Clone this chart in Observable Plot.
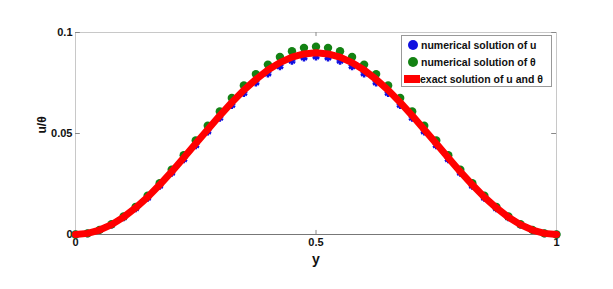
<!DOCTYPE html>
<html><head><meta charset="utf-8">
<script src="https://cdn.jsdelivr.net/npm/d3@7"></script>
<script src="https://cdn.jsdelivr.net/npm/@observablehq/plot@0.6"></script>
<style>
body{margin:0;background:#fff;}
#wrap{position:relative;width:613px;height:289px;font-family:"Liberation Sans",Arial,sans-serif;}
#legend{position:absolute;left:401px;top:35px;width:151px;height:52px;border:1px solid #999;background:#fff;box-sizing:border-box;font-weight:bold;font-size:10.5px;color:#111;}
.row{position:absolute;left:0;height:16px;line-height:16px;white-space:nowrap;}
.sw{position:absolute;top:50%;transform:translateY(-50%);}
</style></head>
<body><div id="wrap"></div>
<script>
const yPos = [0,0.025,0.05,0.075,0.1,0.125,0.15,0.175,0.2,0.225,0.25,0.275,0.3,0.325,0.35,0.375,0.4,0.425,0.45,0.475,0.5,0.525,0.55,0.575,0.6,0.625,0.65,0.675,0.7,0.725,0.75,0.775,0.8,0.825,0.85,0.875,0.9,0.925,0.95,0.975,1];
const halfU = [0,0.00054,0.00215,0.0048,0.0084,0.0129,0.0181,0.0240,0.0304,0.0371,0.0440,0.0509,0.0576,0.0640,0.0699,0.0751,0.0796,0.0832,0.0859,0.0875,0.0880];
const halfT = [0,0.00057,0.00228,0.0051,0.0089,0.0136,0.0192,0.0254,0.0321,0.0392,0.0465,0.0538,0.0609,0.0676,0.0738,0.0794,0.0841,0.0879,0.0907,0.0924,0.0930];
const halfE = [0,0.00055,0.0022,0.0049,0.0086,0.0132,0.0185,0.0246,0.0311,0.0380,0.0450,0.0520,0.0589,0.0654,0.0715,0.0768,0.0814,0.0851,0.0878,0.0894,0.0900];
const mirror = h => h.concat(h.slice(0,-1).reverse());
const uNum = mirror(halfU), tNum = mirror(halfT), exact = mirror(halfE);
const xTicks = [0,0.5,1];
const yTicks = [0,0.05,0.1];
const labels = ["numerical solution of u","numerical solution of \u03b8","exact solution of u and \u03b8"];

const U = yPos.map((x,i)=>({x, v:uNum[i]}));
const T = yPos.map((x,i)=>({x, v:tNum[i]}));
const E = yPos.map((x,i)=>({x, v:exact[i]}));

const chart = Plot.plot({
  width:613, height:289,
  marginLeft:75, marginRight:57, marginTop:32, marginBottom:55,
  style:{fontFamily:"Liberation Sans, Arial, sans-serif", background:"#fff"},
  x:{domain:[0,1]}, y:{domain:[0,0.1]},
  marks:[
    Plot.ruleY([0.1],{stroke:"#c8c8c8"}),
    Plot.ruleX([1],{stroke:"#c8c8c8"}),
    Plot.ruleX([0],{stroke:"#c8c8c8"}),
    Plot.ruleY(yTicks.slice(1),{x1:0,x2:0.01,stroke:"#888"}),
    Plot.ruleY(yTicks.slice(1),{x1:0.99,x2:1,stroke:"#888"}),
    Plot.ruleX([0.5],{y1:0,y2:0.002,stroke:"#888"}),
    Plot.ruleX([0.5],{y1:0.098,y2:0.1,stroke:"#888"}),
    Plot.ruleY([0],{stroke:"#777"}),
    Plot.axisX({ticks:xTicks, tickSize:0, tickPadding:4, tickFormat:d=>String(d), fontWeight:"bold", fontSize:11, label:null, fill:"#111"}),
    Plot.axisY({ticks:yTicks, tickSize:0, tickPadding:3, tickFormat:d=>String(d), fontWeight:"bold", fontSize:11, label:null, fill:"#111"}),
    Plot.text(["y"],{frameAnchor:"bottom", dy:29, fontSize:14, fontWeight:"bold", fill:"#111"}),
    Plot.text(["u/\u03b8"],{frameAnchor:"left", dx:-33, rotate:-90, fontSize:12, fontWeight:"bold", fill:"#111"}),
    Plot.dot(U,{x:"x", y:"v", symbol:"asterisk", r:3.5, stroke:"#1010e0", strokeWidth:2.5}),
    Plot.dot(U,{x:"x", y:"v", r:2.2, fill:"#1010e0"}),
    Plot.dot(T,{x:"x", y:"v", r:4.2, fill:"#138213"}),
    Plot.line(E,{x:"x", y:"v", stroke:"#ff0000", strokeWidth:7, strokeLinecap:"round"})
  ]
});
const wrap = document.getElementById("wrap");
wrap.appendChild(chart);
const lg = document.createElement("div"); lg.id="legend";
const sw = [
 '<svg class="sw" style="left:5px" width="12" height="12"><circle cx="6" cy="6" r="5" fill="#1010e0"/></svg>',
 '<svg class="sw" style="left:5px" width="12" height="12"><circle cx="6" cy="6" r="5" fill="#138213"/></svg>',
 '<svg class="sw" style="left:2px" width="16" height="8"><rect width="16" height="8" fill="#ff0000"/></svg>'
];
labels.forEach((t,i)=>{
  const r = document.createElement("div"); r.className="row";
  r.style.top = (1+i*17)+"px";
  r.innerHTML = sw[i] + '<span style="position:absolute;left:' + (i==2?18:19) + 'px">' + t + '</span>';
  lg.appendChild(r);
});
wrap.appendChild(lg);
</script></body></html>
